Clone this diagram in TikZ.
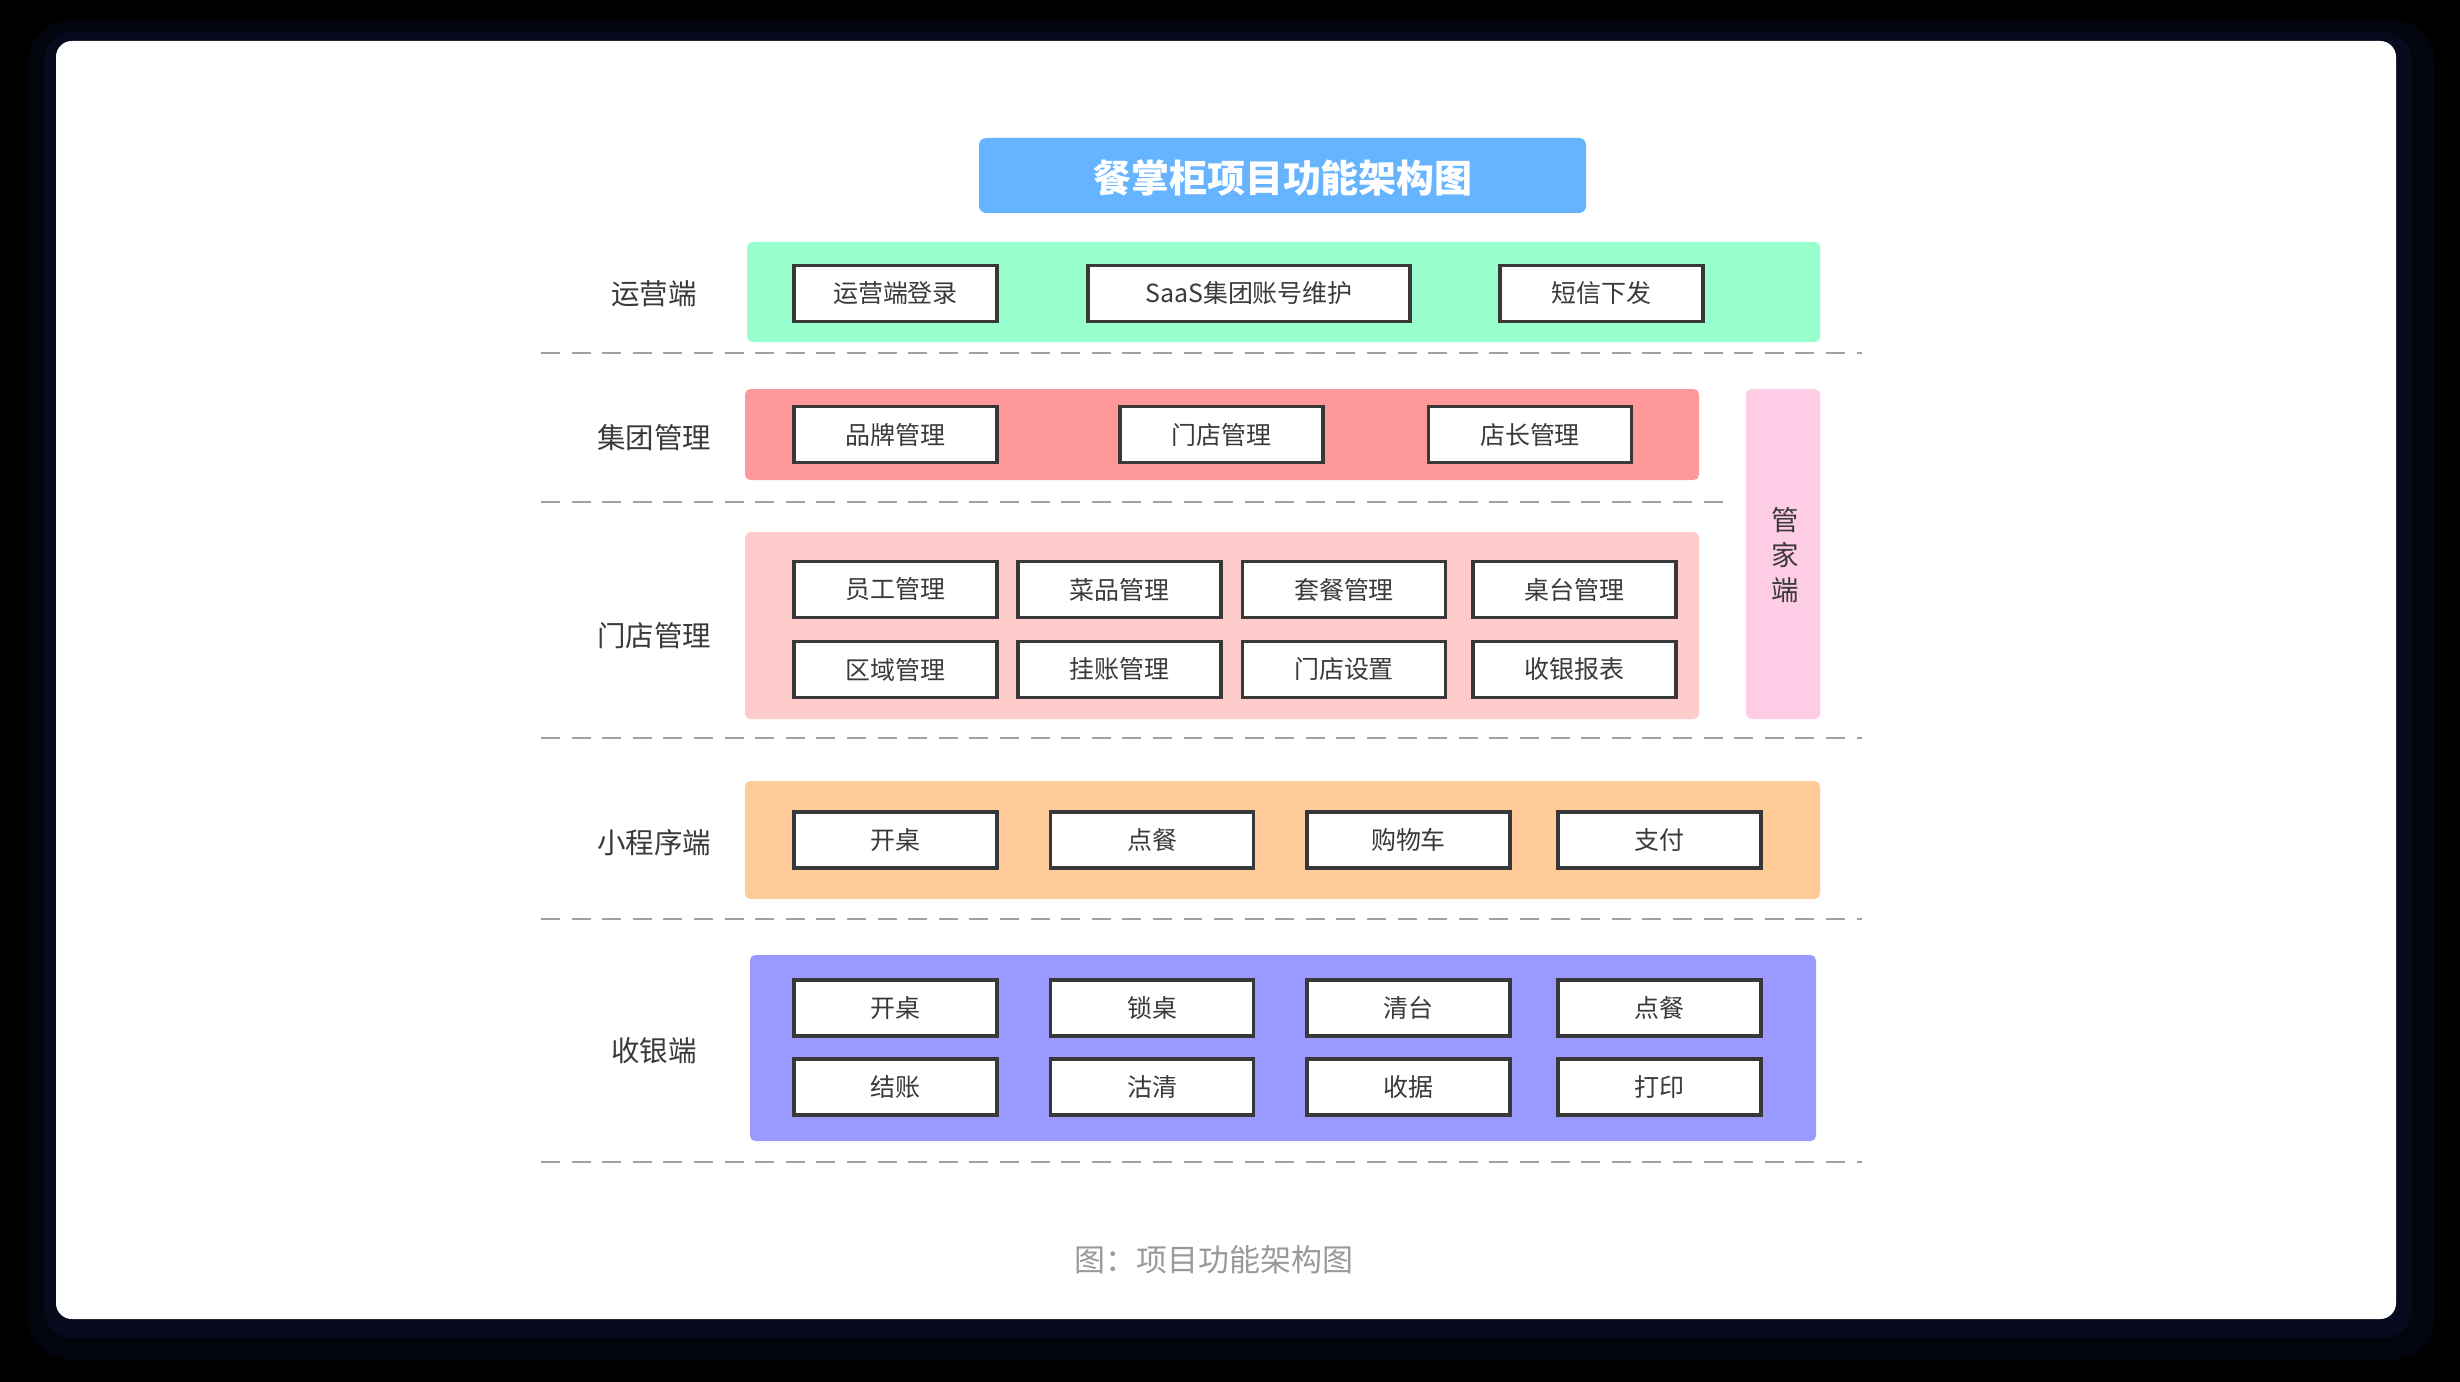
\documentclass[tikz,border=0pt]{standalone}
\usepackage{fontspec}
\setmainfont{Noto Sans CJK SC}
\definecolor{titleblue}{HTML}{66B3FF}
\definecolor{opsgreen}{HTML}{99FFCC}
\definecolor{grpred}{HTML}{FF9999}
\definecolor{storepink}{HTML}{FFCCCC}
\definecolor{sidepink}{HTML}{FFCCE6}
\definecolor{apporange}{HTML}{FFCC99}
\definecolor{cashpurple}{HTML}{9999FF}
\definecolor{boxline}{HTML}{383838}
\definecolor{txt}{HTML}{3A3A3A}
\definecolor{sepgray}{HTML}{A0A0A0}
\definecolor{capgray}{HTML}{999999}
\definecolor{cardshadow}{RGB}{7,10,28}

\begin{document}
\begin{tikzpicture}[x=0.01cm, y=-0.01cm,
        band/.style={rounded corners=1.5pt},
        item/.style={draw=boxline, line width=1pt, fill=white, inner sep=0pt,
                minimum width=2.03cm, minimum height=0.56cm, text=txt,
                font=\fontsize{7.1}{8}\selectfont},
        layer/.style={text=txt, font=\fontsize{8.1}{9}\selectfont},
        sep/.style={sepgray, line width=0.6pt, dash pattern=on 5.4pt off 3.3pt}]
        \useasboundingbox (0,0) rectangle (2460,1382);
        \fill[black] (0,0) rectangle (2460,1382);
        \fill[fill=cardshadow, rounded corners=12pt, opacity=0.5] (28,20) rectangle (2435,1360);
        \fill[fill=cardshadow, rounded corners=8pt] (44,32) rectangle (2412,1338);
        \fill[white, rounded corners=4.5pt] (56,41) rectangle (2396,1319);

        \fill[titleblue, rounded corners=2pt] (979,138) rectangle (1586,213);
        \node[text=white, font=\fontsize{10.8}{12}\selectfont\bfseries] (title) at (1283,178) {餐掌柜项目功能架构图};

        % 运营端
        \fill[opsgreen, band] (747,242) rectangle (1820,342);
        \node[layer] (opsl) at (654,294) {运营端};
        \node[item] (ops1) at (895.5,293.5) {运营端登录};
        \node[item, minimum width=3.22cm] (ops2) at (1249,293.5) {SaaS集团账号维护};
        \node[item] (ops3) at (1601.5,293.5) {短信下发};
        \draw[sep] (541,353) -- (1862,353);

        % 集团管理
        \fill[grpred, band] (745,389) rectangle (1699,480);
        \node[layer] (grpl) at (654,438) {集团管理};
        \node[item] (grp1) at (895.5,434.5) {品牌管理};
        \node[item] (grp2) at (1221.5,434.5) {门店管理};
        \node[item] (grp3) at (1530,434.5) {店长管理};
        \draw[sep] (541,502) -- (1726,502);

        % 管家端
        \fill[sidepink, band] (1746,389) rectangle (1820,719);
        \node[text=txt, align=center, font=\fontsize{7.8}{10}\selectfont] (side) at (1785,555) {管\\家\\端};

        % 门店管理
        \fill[storepink, band] (745,532) rectangle (1699,719);
        \node[layer] (storel) at (654,636) {门店管理};
        \node[item] (st1) at (895.5,589.5) {员工管理};
        \node[item] (st2) at (1119.5,589.5) {菜品管理};
        \node[item] (st3) at (1344,589.5) {套餐管理};
        \node[item] (st4) at (1574.5,589.5) {桌台管理};
        \node[item] (st5) at (895.5,669.5) {区域管理};
        \node[item] (st6) at (1119.5,669.5) {挂账管理};
        \node[item] (st7) at (1344,669.5) {门店设置};
        \node[item] (st8) at (1574.5,669.5) {收银报表};
        \draw[sep] (541,738) -- (1862,738);

        % 小程序端
        \fill[apporange, band] (745,781) rectangle (1820,899);
        \node[layer] (appl) at (654,843) {小程序端};
        \node[item] (app1) at (895.5,840) {开桌};
        \node[item] (app2) at (1152,840) {点餐};
        \node[item] (app3) at (1408.5,840) {购物车};
        \node[item] (app4) at (1659.5,840) {支付};
        \draw[sep] (541,919) -- (1862,919);

        % 收银端
        \fill[cashpurple, band] (750,955) rectangle (1816,1141);
        \node[layer] (cashl) at (654,1051) {收银端};
        \node[item] (cash1) at (895.5,1008) {开桌};
        \node[item] (cash2) at (1152,1008) {锁桌};
        \node[item] (cash3) at (1408.5,1008) {清台};
        \node[item] (cash4) at (1659.5,1008) {点餐};
        \node[item] (cash5) at (895.5,1087) {结账};
        \node[item] (cash6) at (1152,1087) {沽清};
        \node[item] (cash7) at (1408.5,1087) {收据};
        \node[item] (cash8) at (1659.5,1087) {打印};
        \draw[sep] (541,1162) -- (1862,1162);

        \node[text=capgray, font=\fontsize{8.8}{10}\selectfont] (caption) at (1214,1260) {图：项目功能架构图};
\end{tikzpicture}
\end{document}
